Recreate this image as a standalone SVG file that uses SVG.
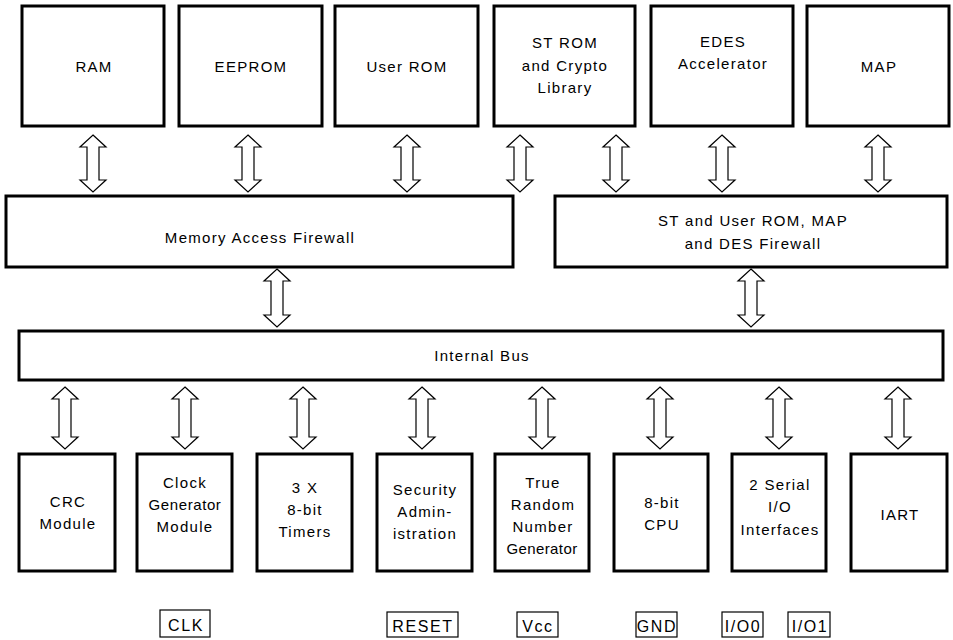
<svg xmlns="http://www.w3.org/2000/svg" width="953" height="640" viewBox="0 0 953 640">
<style>
.box{fill:#fff;stroke:#000;stroke-width:3}
.pin{fill:#fff;stroke:#000;stroke-width:1.2}
.arr{fill:#fff;stroke:#000;stroke-width:1.2;stroke-linejoin:miter}
text{font-family:"Liberation Sans",Arial,sans-serif;font-size:15px;letter-spacing:1.3px;fill:#000;text-anchor:middle}
text.p{font-size:16px;letter-spacing:1.6px}
</style>
<rect width="953" height="640" fill="#fff"/>
<g id="connectors">
<path class="arr" d="M93,135 L106,147 L99,147 L99,180 L106,180 L93,192 L80,180 L87,180 L87,147 L80,147 Z"/>
<path class="arr" d="M248,135 L261,147 L254,147 L254,180 L261,180 L248,192 L235,180 L242,180 L242,147 L235,147 Z"/>
<path class="arr" d="M407,135 L420,147 L413,147 L413,180 L420,180 L407,192 L394,180 L401,180 L401,147 L394,147 Z"/>
<path class="arr" d="M520,135 L533,147 L526,147 L526,180 L533,180 L520,192 L507,180 L514,180 L514,147 L507,147 Z"/>
<path class="arr" d="M616,135 L629,147 L622,147 L622,180 L629,180 L616,192 L603,180 L610,180 L610,147 L603,147 Z"/>
<path class="arr" d="M722,135 L735,147 L728,147 L728,180 L735,180 L722,192 L709,180 L716,180 L716,147 L709,147 Z"/>
<path class="arr" d="M878,135 L891,147 L884,147 L884,180 L891,180 L878,192 L865,180 L872,180 L872,147 L865,147 Z"/>
<path class="arr" d="M277,269 L290,281 L283,281 L283,315 L290,315 L277,327 L264,315 L271,315 L271,281 L264,281 Z"/>
<path class="arr" d="M751,269 L764,281 L757,281 L757,315 L764,315 L751,327 L738,315 L745,315 L745,281 L738,281 Z"/>
<path class="arr" d="M65,387 L78,399 L71,399 L71,437 L78,437 L65,449 L52,437 L59,437 L59,399 L52,399 Z"/>
<path class="arr" d="M185,387 L198,399 L191,399 L191,437 L198,437 L185,449 L172,437 L179,437 L179,399 L172,399 Z"/>
<path class="arr" d="M303,387 L316,399 L309,399 L309,437 L316,437 L303,449 L290,437 L297,437 L297,399 L290,399 Z"/>
<path class="arr" d="M422,387 L435,399 L428,399 L428,437 L435,437 L422,449 L409,437 L416,437 L416,399 L409,399 Z"/>
<path class="arr" d="M542,387 L555,399 L548,399 L548,437 L555,437 L542,449 L529,437 L536,437 L536,399 L529,399 Z"/>
<path class="arr" d="M660,387 L673,399 L666,399 L666,437 L673,437 L660,449 L647,437 L654,437 L654,399 L647,399 Z"/>
<path class="arr" d="M779,387 L792,399 L785,399 L785,437 L792,437 L779,449 L766,437 L773,437 L773,399 L766,399 Z"/>
<path class="arr" d="M898,387 L911,399 L904,399 L904,437 L911,437 L898,449 L885,437 L892,437 L892,399 L885,399 Z"/>
</g>
<g id="ram"><rect class="box" x="22" y="6" width="142" height="120"/><text x="94" y="72">RAM</text></g>
<g id="eeprom"><rect class="box" x="179" y="6" width="143" height="120"/><text x="251" y="72">EEPROM</text></g>
<g id="userrom"><rect class="box" x="335" y="6" width="143" height="120"/><text x="407" y="72">User ROM</text></g>
<g id="strom"><rect class="box" x="494" y="6" width="141" height="120"/><text x="565" y="48">ST ROM</text><text x="565" y="71">and Crypto</text><text x="565" y="93">Library</text></g>
<g id="edes"><rect class="box" x="651" y="6" width="142" height="120"/><text x="723" y="47">EDES</text><text x="723" y="69">Accelerator</text></g>
<g id="map"><rect class="box" x="807" y="6" width="142" height="120"/><text x="879" y="72">MAP</text></g>
<g id="maf"><rect class="box" x="6" y="196" width="507" height="71"/><text x="260" y="243">Memory Access Firewall</text></g>
<g id="stfw"><rect class="box" x="555" y="196" width="392" height="71"/><text x="753" y="226">ST and User ROM, MAP</text><text x="753" y="249">and DES Firewall</text></g>
<g id="bus"><rect class="box" x="19" y="331" width="924" height="49"/><text x="482" y="361">Internal Bus</text></g>
<g id="crc"><rect class="box" x="19" y="454" width="96" height="117"/><text x="68" y="507">CRC</text><text x="68" y="529">Module</text></g>
<g id="clock"><rect class="box" x="137" y="454" width="95" height="117"/><text x="185" y="488">Clock</text><text x="185" y="510" style="letter-spacing:0.6px">Generator</text><text x="185" y="532">Module</text></g>
<g id="timers"><rect class="box" x="257" y="454" width="95" height="117"/><text x="305" y="493">3 X</text><text x="305" y="515">8-bit</text><text x="305" y="537">Timers</text></g>
<g id="security"><rect class="box" x="377" y="454" width="95" height="117"/><text x="425" y="495">Security</text><text x="425" y="517">Admin-</text><text x="425" y="539">istration</text></g>
<g id="trng"><rect class="box" x="495" y="454" width="94" height="117"/><text x="543" y="488">True</text><text x="543" y="510">Random</text><text x="543" y="532">Number</text><text x="542" y="554" style="letter-spacing:0.4px">Generator</text></g>
<g id="cpu"><rect class="box" x="614" y="454" width="94" height="117"/><text x="662" y="508">8-bit</text><text x="662" y="530">CPU</text></g>
<g id="serial"><rect class="box" x="732" y="454" width="94" height="117"/><text x="780" y="490">2 Serial</text><text x="780" y="512">I/O</text><text x="780" y="535">Interfaces</text></g>
<g id="iart"><rect class="box" x="851" y="454" width="96" height="117"/><text x="900" y="520">IART</text></g>
<g id="clk"><rect class="pin" x="160" y="610" width="50" height="27"/><text class="p" x="186" y="631">CLK</text></g>
<g id="reset"><rect class="pin" x="387" y="612" width="71" height="25"/><text class="p" x="423" y="632">RESET</text></g>
<g id="vcc"><rect class="pin" x="517" y="612" width="41" height="25"/><text class="p" x="538" y="632">Vcc</text></g>
<g id="gnd"><rect class="pin" x="636" y="612" width="41" height="25"/><text class="p" x="657" y="632">GND</text></g>
<g id="io0"><rect class="pin" x="722" y="612" width="41" height="25"/><text class="p" x="743" y="632">I/O0</text></g>
<g id="io1"><rect class="pin" x="788" y="612" width="42" height="25"/><text class="p" x="810" y="632">I/O1</text></g>
</svg>
